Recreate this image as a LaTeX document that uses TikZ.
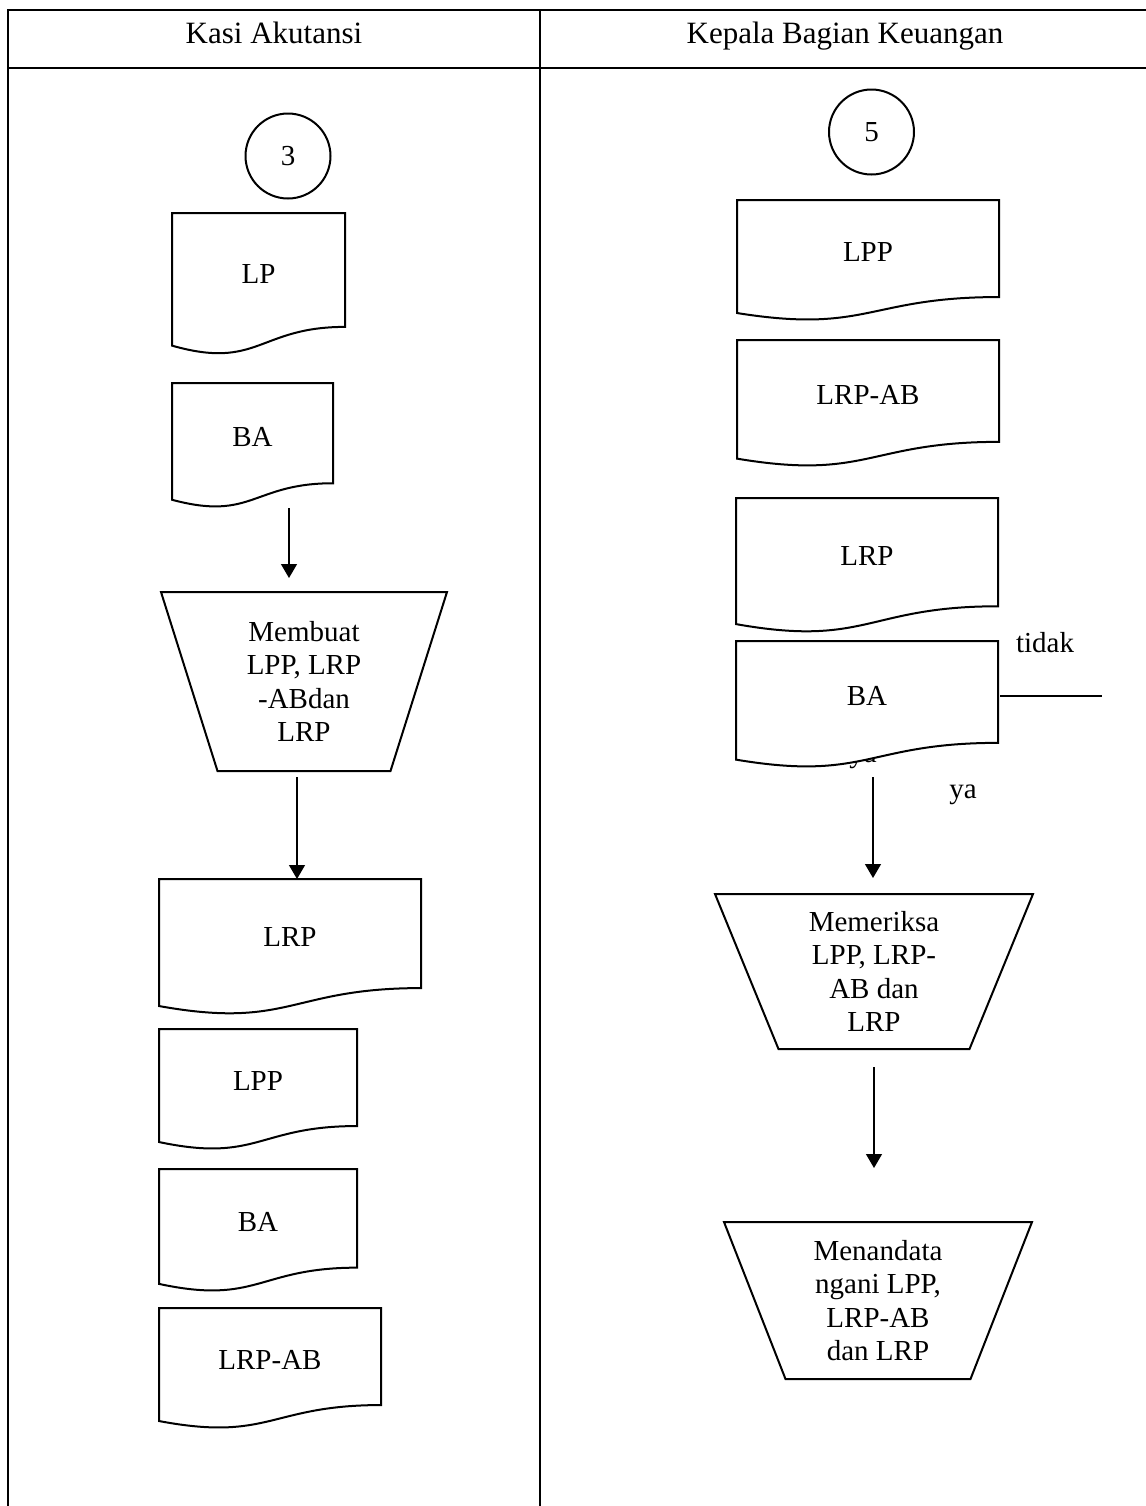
\documentclass[tikz,border=0pt]{standalone}
\usepackage{fontspec}
\setmainfont{Liberation Serif}
\usetikzlibrary{calc,arrows.meta}

% document symbol: name, left x, top y, width, full height, label
\newcommand{\docnode}[6]{%
  \node[docbox, minimum width=#4*0.5pt, minimum height=#5*0.5pt, anchor=north west] (#1) at (#2,#3) {};
  \draw[shapeline, fill=white] (#1.north west) -- (#1.north east)
    -- ($(#1.north east)!0.802!(#1.south east)$)
    .. controls ($(#1.north)!0.802!(#1.south)$) and ($(#1.north)!1.1075!(#1.south)$)
    .. ($(#1.north west)!0.934!(#1.south west)$) -- cycle;
  \node[bodytext] (#1-t) at ($(#1.north)!0.43!(#1.south)$) {#6};
}

% manual operation (inverted trapezium): name, centre x, top y, top width, bottom y, bottom width, label
\newcommand{\manualop}[7]{%
  \draw[shapeline] ({#2-#4/2},#3) -- ({#2+#4/2},#3) -- ({#2+#6/2},#5) -- ({#2-#6/2},#5) -- cycle;
  \node[bodytext, align=center] (#1) at (#2,{(#3+#5)/2}) {#7};
}

\begin{document}
\begin{tikzpicture}[x=0.5pt,y=-0.5pt,
  tableline/.style={line width=0.6pt},
  shapeline/.style={line width=1pt, line join=miter},
  flow/.style={line width=0.65pt, -{Triangle[width=8pt,length=7pt]}},
  plainline/.style={line width=0.65pt},
  docbox/.style={inner sep=0pt, outer sep=0pt, draw=none},
  bodytext/.style={font=\fontsize{14.5}{16.7}\selectfont, inner sep=0pt},
  headtext/.style={font=\fontsize{15.5}{18}\selectfont, inner sep=0pt, anchor=base},
  connector/.style={circle, draw, line width=1pt, minimum size=42.5pt, inner sep=0pt, font=\fontsize{14.5}{16.7}\selectfont}]

\useasboundingbox (0,0) rectangle (1146,1506);
\fill[white] (0,0) rectangle (1146,1506);

% swimlane table
\draw[tableline] (1146,10) -- (8,10) -- (8,1506);
\draw[tableline] (8,68) -- (1146,68);
\draw[tableline] (540,10) -- (540,1506);
\node[headtext] (lane1) at (274,43) {Kasi Akutansi};
\node[headtext] (lane2) at (845,43) {Kepala Bagian Keuangan};

% ---- Kasi Akutansi ----
\node[connector] (c3) at (288,156) {3};
\docnode{lp}{172}{213}{173}{142}{LP}
\docnode{baA}{172}{383}{161}{125}{BA}
\coordinate (a1s) at (289,508);
\coordinate (a1e) at (289,578);
\draw[flow] (a1s) -- (a1e);
\manualop{membuat}{304}{592}{286}{771}{173}{Membuat\\LPP, LRP\\-ABdan\\LRP}
\coordinate (a2s) at (297,777);
\coordinate (a2e) at (297,879);
\draw[flow] (a2s) -- (a2e);
\docnode{lrpA}{159}{879}{262}{136}{LRP}
\docnode{lppA}{159}{1029}{198}{121}{LPP}
\docnode{baB}{159}{1169}{198}{123}{BA}
\docnode{lrpabA}{159}{1308}{222}{121}{LRP-AB}

% ---- Kepala Bagian Keuangan ----
\node[connector] (c5) at (871.5,132) {5};
\docnode{lppB}{737}{200}{262}{121}{LPP}
\docnode{lrpabB}{737}{340}{262}{127}{LRP-AB}
\docnode{lrpB}{736}{498}{262}{135}{LRP}
\node[bodytext, anchor=base] (yahid) at (863,762) {ya};
\docnode{baC}{736}{641}{262}{127}{BA}
\node[bodytext, anchor=base] (tidak) at (1045,652) {tidak};
\coordinate (ts) at (1000,696);
\coordinate (te) at (1102,696);
\draw[plainline] (ts) -- (te);
\node[bodytext, anchor=base] (ya) at (963,798) {ya};
\coordinate (a3s) at (873,777);
\coordinate (a3e) at (873,878);
\draw[flow] (a3s) -- (a3e);
\manualop{memeriksa}{874}{894}{318}{1049}{191}{Memeriksa\\LPP, LRP-\\AB dan\\LRP}
\coordinate (a4s) at (874,1067);
\coordinate (a4e) at (874,1168);
\draw[flow] (a4s) -- (a4e);
\manualop{menandatangani}{878}{1222}{308}{1379}{185}{Menandata\\ngani LPP,\\LRP-AB\\dan LRP}

\end{tikzpicture}
\end{document}
